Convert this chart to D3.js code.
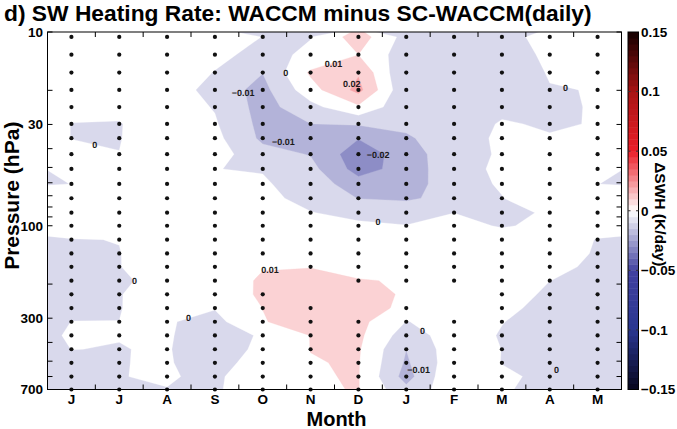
<!DOCTYPE html>
<html>
<head>
<meta charset="utf-8">
<script src="https://cdn.jsdelivr.net/npm/d3@7"></script>
<style>
  html, body { margin: 0; padding: 0; background: #fff; }
  svg { display: block; font-family: "Liberation Sans", Arial, Helvetica, sans-serif; }
</style>
</head>
<body>
<svg id="chart" width="677" height="429"></svg>
<script>
// ---- data -------------------------------------------------------------
const months = ["J", "J", "A", "S", "O", "N", "D", "J", "F", "M", "A", "M"];

// model pressure levels (hPa), top to bottom
const pressureLevels = [10.6, 13.1, 16.2, 19.9, 24.4, 29.8, 35.3, 42.7, 50.9, 60.8,
  72.1, 85.6, 100, 118, 139, 163, 192, 226, 266, 313, 368, 434, 510, 600, 700];

// SW heating-rate difference (K/day), one profile per month, top to bottom
const dswhByMonth = [
  /* J */ [0.004, 0.004, 0.004, 0.004, 0.003, -0.0002, -0.0002, 0.003, 0.0001, 0.0001, 0.003, 0.004, 0.005, -0.0004, -0.003, -0.004, -0.004, -0.004, -0.002, 0.0001, 0.002, 0.0001, -0.003, -0.004, -0.004],
  /* J */ [0.004, 0.004, 0.004, 0.003, 0.0023, -0.0005, -0.0005, 0.00015, 0.003, 0.004, 0.005, 0.006, 0.005, 0.0002, -0.0003, -0.0003, -0.002, -0.0005, -0.0003, 0.00003, 0.0003, -0.0003, -0.0003, -0.0002, -0.002],
  /* A */ [0.004, 0.004, 0.005, 0.0075, 0.005, 0.006, 0.008, 0.006, 0.005, 0.005, 0.005, 0.005, 0.005, 0.006, 0.007, 0.006, 0.0045, 0.006, 0.004, 0.0008, 0.0014, 0.0009, 0.001, 0.0008, -0.0002],
  /* S */ [0.003, 0.002, -0.0003, -0.005, -0.0006, 0.001, 0.0027, 0.0043, 0.0001, 0.003, 0.005, 0.006, 0.006, 0.006, 0.006, 0.005, 0.005, 0.004, 0.0005, -0.003, -0.008, -0.008, -0.006, -0.002, -0.0015],
  /* O */ [-0.0001, -0.0025, -0.0098, -0.013, -0.014, -0.013, -0.012, -0.0065, -0.0005, 0.001, 0.004, 0.006, 0.007, 0.008, 0.009, 0.0095, 0.0112, 0.0115, 0.0101, 0.0095, 0.0019, 0.0036, 0.007, 0.0075, 0.0073],
  /* N */ [-0.0003, 0.0015, 0.0115, 0.006, -0.003, -0.0101, -0.013, -0.0105, -0.007, -0.004, -0.0047, 0.0005, 0.003, 0.005, 0.007, 0.0098, 0.012, 0.014, 0.015, 0.014, 0.0102, 0.0101, 0.0097, 0.0095, 0.0092],
  /* D */ [0.0151, 0.0099, 0.019, 0.023, 0.0083, -0.009, -0.0195, -0.026, -0.024, -0.016, -0.0102, -0.004, 0.0025, 0.004, 0.006, 0.008, 0.0103, 0.013, 0.014, 0.013, 0.012, 0.011, 0.0105, 0.0104, 0.0103],
  /* J */ [-0.0038, -0.006, -0.0102, -0.009, -0.0077, -0.008, -0.0111, -0.015, -0.016, -0.015, -0.012, -0.0015, 0.0001, 0.003, 0.005, 0.007, 0.0096, 0.0091, 0.008, -0.0002, -0.0049, -0.0099, -0.0114, -0.014, -0.0075],
  /* F */ [-0.004, -0.005, -0.005, -0.005, -0.005, -0.005, -0.0053, -0.0036, -0.003, -0.0041, -0.0055, -0.0001, 0.003, 0.005, 0.006, 0.006, 0.006, 0.004, 0.004, 0.0023, 0.0049, 0.0059, 0.0061, 0.0093, 0.0069],
  /* M */ [-0.003, -0.003, -0.008, -0.003, -0.0022, 0.0008, 0.002, 0.001, 0.0015, 0.001, -0.0003, -0.004, -0.0008, 0.0045, 0.006, 0.006, 0.006, 0.0081, 0.0031, 0.0003, -0.0007, -0.0001, -0.0002, 0.0015, 0.001],
  /* A */ [0.003, 0.0012, 0.0009, -0.0006, -0.002, -0.001, 0.0006, 0.003, 0.004, 0.005, 0.007, 0.0018, 0.002, 0.005, 0.0073, 0.0041, 0.0001, -0.003, -0.004, -0.004, -0.004, -0.004, -0.003, -0.002, -0.003],
  /* M */ [0.004, 0.004, 0.003, 0.0004, 0.0009, 0.0005, 0.003, 0.004, 0.0001, 0.0001, 0.004, 0.005, 0.004, -0.0004, -0.0015, -0.003, -0.004, -0.004, -0.004, -0.004, -0.004, -0.004, -0.004, -0.004, -0.004]
];

// profile at the turn of the annual cycle (shared by both plot edges)
const dswhEdge = [0.004, 0.004, 0.004, 0.004, 0.004, 0.004, 0.004, 0.006, 0.0001, -0.001, 0.009, 0.006, 0.006,
  -0.002, -0.003, -0.003, -0.003, -0.003, -0.003, -0.003, -0.003, -0.003, -0.003, -0.003, -0.003];

// filled-contour levels (K/day)
const contourLevels = [-0.03, -0.02, -0.01, 0, 0.01, 0.02];

// grid points without a significance dot: [month index, level index]
const unmarked = [[4, 15], [4, 16], [5, 16], [5, 17], [6, 17], [6, 18], [7, 17], [8, 17], [8, 18]];

// inline contour labels: [month position, pressure, text]
const contourLabels = [
  [0.49, 38.2, "0"], [1.32, 193, "0"], [2.45, 298, "0"], [3.59, 20.6, "\u22120.01"],
  [4.48, 16.2, "0"], [5.48, 14.6, "0.01"], [5.86, 18.6, "0.02"], [4.43, 36.9, "\u22120.01"],
  [6.41, 43.1, "\u22120.02"], [6.41, 95, "0"], [4.15, 169, "0.01"], [7.34, 348, "0"],
  [7.26, 556, "\u22120.01"], [10.14, 556, "0"], [10.33, 19.4, "0"]
];

const pressureTicks = [10, 20, 30, 40, 50, 60, 70, 80, 90, 100, 200, 300, 400, 500, 600, 700];
const pressureTickLabels = [10, 30, 100, 300, 700];
const colorbarTicks = [-0.15, -0.1, -0.05, 0, 0.05, 0.1, 0.15];

// ---- layout -----------------------------------------------------------
const plot = { left: 47.5, right: 621.5, top: 32, bottom: 389.5 };
const cbar = { left: 628, right: 638.5 };

const svg = d3.select("#chart");

const x = d3.scaleLinear().domain([-0.5, 11.5]).range([plot.left, plot.right]);
const y = d3.scaleLog().domain([10, 700]).range([plot.top, plot.bottom]);

const color = d3.scaleLinear()
  .domain([-0.15, -0.1, -0.05, 0, 0.05, 0.1, 0.15])
  .range(["#06061c", "#2a3690", "#4141a0", "#ffffff", "#eb1e28", "#a81414", "#140000"])
  .clamp(true);

// ---- contour grid -----------------------------------------------------
const colPos = [-0.5, ...d3.range(12), 11.5];
const nx = colPos.length, ny = pressureLevels.length;
const grid = [];
for (let j = 0; j < ny; j++) {
  for (let k = 0; k < nx; k++) {
    grid.push(k === 0 || k === nx - 1 ? dswhEdge[j] : dswhByMonth[k - 1][j]);
  }
}
// grid cell centres sit at i + 0.5 in contour space
const colPix = d3.scaleLinear().domain(d3.range(nx).map(k => k + 0.5)).range(colPos.map(x));
const rowPix = d3.scaleLinear().domain(d3.range(ny).map(j => j + 0.5)).range(pressureLevels.map(y));

const bands = d3.contours().size([nx, ny]).thresholds(contourLevels)(grid);
const gridPath = d3.geoPath(d3.geoTransform({
  point(px, py) { this.stream.point(colPix(px), rowPix(py)); }
}));

svg.append("defs").append("clipPath").attr("id", "plot-clip")
  .append("rect")
  .attr("x", plot.left).attr("y", plot.top)
  .attr("width", plot.right - plot.left).attr("height", plot.bottom - plot.top);

const field = svg.append("g").attr("clip-path", "url(#plot-clip)");
field.selectAll("path.band")
  .data(bands)
  .join("path")
  .attr("class", "band")
  .attr("d", gridPath)
  .attr("fill", d => color(d.value))
  .attr("stroke", d => color(d.value))
  .attr("stroke-width", 0.3);

// significance dots
const unmarkedSet = new Set(unmarked.map(([m, l]) => m + "-" + l));
const dots = [];
months.forEach((_, m) => pressureLevels.forEach((p, l) => {
  if (!unmarkedSet.has(m + "-" + l)) dots.push([m, p]);
}));
svg.append("g").selectAll("circle")
  .data(dots)
  .join("circle")
  .attr("cx", d => x(d[0]))
  .attr("cy", d => y(d[1]))
  .attr("r", 2.1)
  .attr("fill", "#111");

// contour labels
svg.append("g")
  .style("text-rendering", "geometricPrecision")
  .selectAll("text")
  .data(contourLabels)
  .join("text")
  .attr("x", d => x(d[0]))
  .attr("y", d => y(d[1]))
  .attr("dy", "0.35em")
  .attr("text-anchor", "middle")
  .attr("font-size", 9)
  .attr("font-weight", "bold")
  .attr("fill", "#1a1a1a")
  .text(d => d[2]);

// ---- axes -------------------------------------------------------------
const axes = svg.append("g").attr("stroke", "#000").attr("stroke-width", 1);
axes.append("rect")
  .attr("x", plot.left).attr("y", plot.top)
  .attr("width", plot.right - plot.left).attr("height", plot.bottom - plot.top)
  .attr("fill", "none");

const tickLen = 5;
// pressure ticks on both sides, pointing inward
pressureTicks.forEach(p => {
  axes.append("line").attr("x1", plot.left).attr("x2", plot.left + tickLen)
    .attr("y1", y(p)).attr("y2", y(p));
  axes.append("line").attr("x1", plot.right).attr("x2", plot.right - tickLen)
    .attr("y1", y(p)).attr("y2", y(p));
});
// month boundary ticks, top and bottom
d3.range(11).map(i => i + 0.5).forEach(m => {
  axes.append("line").attr("x1", x(m)).attr("x2", x(m))
    .attr("y1", plot.bottom).attr("y2", plot.bottom - tickLen);
  axes.append("line").attr("x1", x(m)).attr("x2", x(m))
    .attr("y1", plot.top).attr("y2", plot.top + tickLen);
});

const tickFont = 13.5;
svg.append("g").selectAll("text")
  .data(pressureTickLabels)
  .join("text")
  .attr("x", plot.left - 4.5)
  .attr("y", d => y(d))
  .attr("dy", "0.36em")
  .attr("text-anchor", "end")
  .attr("font-size", tickFont)
  .attr("font-weight", "bold")
  .text(d => d);

svg.append("g").selectAll("text")
  .data(months)
  .join("text")
  .attr("x", (d, i) => x(i))
  .attr("y", 404)
  .attr("text-anchor", "middle")
  .attr("font-size", tickFont)
  .attr("font-weight", "bold")
  .text(d => d);

svg.append("text")
  .attr("x", (plot.left + plot.right) / 2 + 2)
  .attr("y", 425.5)
  .attr("text-anchor", "middle")
  .attr("font-size", 20)
  .attr("font-weight", "bold")
  .text("Month");

svg.append("text")
  .attr("transform", `translate(18.5,${(plot.top + plot.bottom) / 2 - 15}) rotate(-90)`)
  .attr("text-anchor", "middle")
  .attr("font-size", 21)
  .attr("font-weight", "bold")
  .text("Pressure (hPa)");

svg.append("text")
  .attr("x", 4)
  .attr("y", 20.5)
  .attr("font-size", 22.8)
  .attr("font-weight", "bold")
  .text("d) SW Heating Rate: WACCM minus SC-WACCM(daily)");

// ---- colour bar -------------------------------------------------------
const cy = d3.scaleLinear().domain([-0.15, 0.15]).range([plot.bottom, plot.top]);
const step = 0.005;
const cbBins = d3.range(-0.15, 0.15 - step / 2, step);
svg.append("g").selectAll("rect")
  .data(cbBins)
  .join("rect")
  .attr("x", cbar.left)
  .attr("width", cbar.right - cbar.left)
  .attr("y", d => cy(d + step))
  .attr("height", d => cy(d) - cy(d + step) + 0.5)
  .attr("fill", d => color(d + step / 2));
svg.append("rect")
  .attr("x", cbar.left).attr("y", plot.top)
  .attr("width", cbar.right - cbar.left).attr("height", plot.bottom - plot.top)
  .attr("fill", "none").attr("stroke", "#000");
colorbarTicks.slice(1, -1).forEach(v => {
  svg.append("line").attr("x1", cbar.left).attr("x2", cbar.left + 2.5)
    .attr("y1", cy(v)).attr("y2", cy(v)).attr("stroke", "#333");
  svg.append("line").attr("x1", cbar.right).attr("x2", cbar.right - 2.5)
    .attr("y1", cy(v)).attr("y2", cy(v)).attr("stroke", "#333");
});
svg.append("g").selectAll("text")
  .data(colorbarTicks)
  .join("text")
  .attr("x", cbar.right + 2.5)
  .attr("y", d => cy(d))
  .attr("dy", "0.36em")
  .attr("font-size", tickFont)
  .attr("font-weight", "bold")
  .text(d => (d < 0 ? "\u2212" : "") + Math.abs(d));

svg.append("text")
  .attr("transform", `translate(655,${(plot.top + plot.bottom) / 2 + 3.5}) rotate(90)`)
  .attr("text-anchor", "middle")
  .attr("font-size", 15.5)
  .attr("font-weight", "bold")
  .text("\u0394SWH (K/day)");
</script>
</body>
</html>
